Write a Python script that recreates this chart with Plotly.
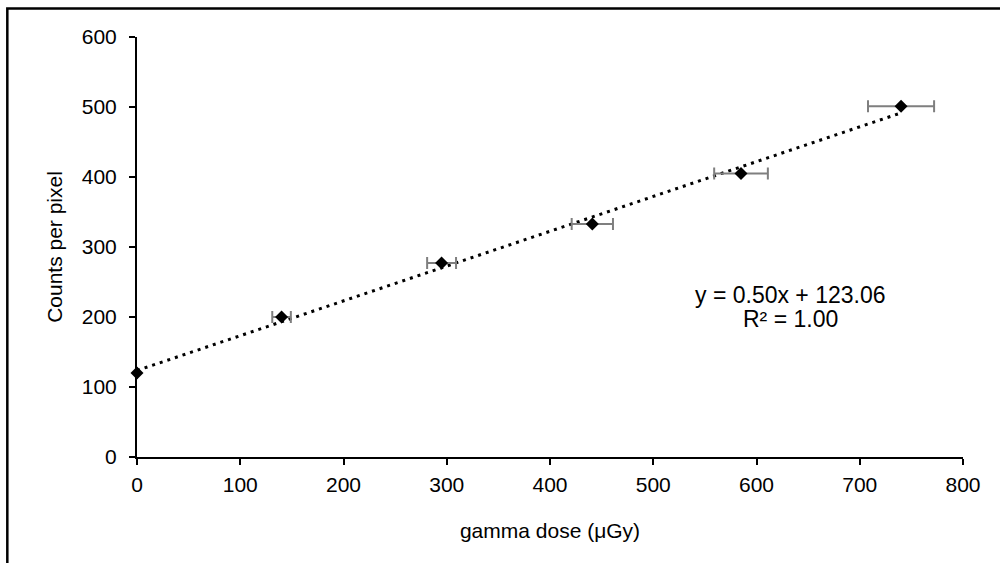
import numpy as np
import plotly.graph_objects as go

# Data
dose_ugy = [0, 140, 295, 441, 585, 740]
counts_per_pixel = [120, 200, 277, 333, 405, 501]
dose_err = [0, 9, 14, 20, 26, 32]

x_ticks = [0, 100, 200, 300, 400, 500, 600, 700, 800]
y_ticks = [0, 100, 200, 300, 400, 500, 600]

eq_text = "y = 0.50x + 123.06"
r2_text = "R² = 1.00"

FONT = "Liberation Sans, Arial, sans-serif"

slope, intercept = np.polyfit(dose_ugy, counts_per_pixel, 1)
fit_x = [min(dose_ugy), max(dose_ugy)]
fit_y = [slope * v + intercept for v in fit_x]

fig = go.Figure()
fig.add_trace(go.Scatter(
    x=fit_x, y=fit_y, mode="lines",
    line=dict(color="black", width=3, dash="3px,5px"),
    hoverinfo="skip", showlegend=False, cliponaxis=False,
))
fig.add_trace(go.Scatter(
    x=dose_ugy, y=counts_per_pixel, mode="markers",
    marker=dict(symbol="diamond", size=10, color="black"),
    error_x=dict(type="data", array=dose_err, visible=True,
                 color="#7f7f7f", thickness=2, width=6),
    showlegend=False, cliponaxis=False,
))

fig.add_annotation(x=633, y=231, xref="x", yref="y", text=eq_text,
                   showarrow=False, font=dict(family=FONT, size=23, color="black"))
fig.add_annotation(x=633, y=197, xref="x", yref="y", text=r2_text,
                   showarrow=False, font=dict(family=FONT, size=23, color="black"))

# outer chart frame (only top and left edges visible in the crop)
fig.add_shape(type="rect", xref="paper", yref="paper",
              x0=-0.157, x1=1.06, y0=-0.3, y1=1.068,
              line=dict(color="black", width=2.5), layer="below")

axis_common = dict(
    showgrid=False, zeroline=False, showline=True, linecolor="black", linewidth=2,
    ticks="outside", ticklen=6, tickwidth=2, tickcolor="black",
    tickfont=dict(family=FONT, size=21, color="black"),
)
fig.update_xaxes(range=[0, 800], tickvals=x_ticks, ticklabelstandoff=2,
                 title=dict(text="gamma dose (μGy)", standoff=28,
                            font=dict(family=FONT, size=21, color="black")),
                 **axis_common)
fig.update_yaxes(range=[0, 600], tickvals=y_ticks, ticklabelstandoff=8,
                 title=dict(text="Counts per pixel", standoff=13,
                            font=dict(family=FONT, size=21, color="black")),
                 **axis_common)

fig.update_layout(
    width=1000, height=563,
    margin=dict(l=137, r=37, t=37, b=106),
    paper_bgcolor="white", plot_bgcolor="white",
    font=dict(family=FONT, color="black"),
)

fig.write_html("out.html")
